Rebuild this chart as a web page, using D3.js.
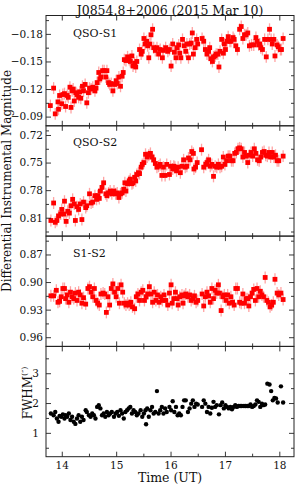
<!DOCTYPE html>
<html>
<head>
<meta charset="utf-8">
<script src="https://cdn.jsdelivr.net/npm/d3@7"></script>
<style>
body { margin: 0; background: #fff; }
svg { display: block; }
</style>
</head>
<body>
<svg id="chart" width="300" height="491"></svg>
<script>
// time (UT) vs differential magnitude
const qsoS1 = [[13.79,-0.102],[13.85,-0.121],[13.88,-0.093],[13.93,-0.106],[13.94,-0.098],[13.96,-0.113],[14.00,-0.104],[14.02,-0.114],[14.05,-0.115],[14.07,-0.101],[14.10,-0.113],[14.12,-0.111],[14.15,-0.122],[14.17,-0.100],[14.19,-0.118],[14.21,-0.120],[14.23,-0.107],[14.26,-0.116],[14.28,-0.114],[14.31,-0.111],[14.33,-0.117],[14.35,-0.110],[14.38,-0.123],[14.40,-0.118],[14.43,-0.125],[14.46,-0.105],[14.49,-0.116],[14.51,-0.121],[14.54,-0.120],[14.57,-0.122],[14.61,-0.118],[14.63,-0.121],[14.65,-0.127],[14.68,-0.138],[14.70,-0.131],[14.72,-0.133],[14.75,-0.140],[14.78,-0.140],[14.81,-0.133],[14.83,-0.140],[14.86,-0.127],[14.88,-0.125],[14.91,-0.126],[14.94,-0.118],[14.97,-0.125],[15.00,-0.129],[15.02,-0.126],[15.05,-0.133],[15.08,-0.123],[15.11,-0.134],[15.13,-0.138],[15.15,-0.152],[15.18,-0.151],[15.21,-0.155],[15.24,-0.152],[15.26,-0.150],[15.29,-0.156],[15.31,-0.145],[15.34,-0.148],[15.36,-0.144],[15.38,-0.150],[15.43,-0.163],[15.46,-0.158],[15.48,-0.161],[15.51,-0.175],[15.53,-0.169],[15.56,-0.172],[15.58,-0.167],[15.60,-0.154],[15.62,-0.169],[15.64,-0.179],[15.67,-0.185],[15.69,-0.165],[15.72,-0.162],[15.75,-0.165],[15.78,-0.158],[15.81,-0.163],[15.85,-0.154],[15.87,-0.162],[15.91,-0.165],[15.95,-0.161],[15.98,-0.163],[16.01,-0.145],[16.04,-0.169],[16.07,-0.160],[16.10,-0.154],[16.12,-0.165],[16.15,-0.168],[16.17,-0.159],[16.19,-0.154],[16.22,-0.174],[16.25,-0.167],[16.28,-0.161],[16.30,-0.169],[16.33,-0.154],[16.35,-0.169],[16.38,-0.170],[16.40,-0.181],[16.42,-0.158],[16.45,-0.165],[16.48,-0.174],[16.50,-0.169],[16.58,-0.175],[16.61,-0.172],[16.64,-0.163],[16.67,-0.158],[16.70,-0.161],[16.72,-0.165],[16.74,-0.153],[16.77,-0.150],[16.79,-0.155],[16.82,-0.156],[16.84,-0.158],[16.87,-0.158],[16.89,-0.144],[16.91,-0.161],[16.94,-0.174],[16.97,-0.159],[16.99,-0.169],[17.01,-0.163],[17.04,-0.172],[17.06,-0.177],[17.09,-0.172],[17.11,-0.172],[17.15,-0.176],[17.17,-0.174],[17.20,-0.167],[17.23,-0.163],[17.27,-0.185],[17.30,-0.188],[17.33,-0.175],[17.36,-0.179],[17.39,-0.179],[17.42,-0.181],[17.45,-0.167],[17.49,-0.168],[17.53,-0.168],[17.57,-0.176],[17.59,-0.172],[17.62,-0.168],[17.64,-0.169],[17.66,-0.165],[17.69,-0.163],[17.73,-0.174],[17.76,-0.155],[17.79,-0.174],[17.82,-0.185],[17.85,-0.174],[17.87,-0.169],[17.90,-0.174],[17.92,-0.156],[17.96,-0.168],[17.98,-0.166],[18.02,-0.163],[18.04,-0.163],[18.07,-0.175]];

const qsoS2 = [[13.80,0.813],[13.85,0.794],[13.88,0.815],[13.91,0.813],[13.94,0.808],[13.98,0.806],[14.00,0.801],[14.04,0.806],[14.05,0.792],[14.08,0.814],[14.11,0.803],[14.14,0.805],[14.17,0.797],[14.20,0.790],[14.23,0.795],[14.25,0.813],[14.28,0.798],[14.31,0.801],[14.34,0.795],[14.37,0.812],[14.40,0.793],[14.44,0.799],[14.46,0.797],[14.51,0.784],[14.54,0.794],[14.57,0.793],[14.61,0.786],[14.64,0.790],[14.66,0.786],[14.69,0.789],[14.71,0.781],[14.74,0.777],[14.77,0.772],[14.81,0.784],[14.83,0.786],[14.86,0.783],[14.89,0.781],[14.92,0.784],[14.96,0.781],[14.99,0.784],[15.02,0.783],[15.05,0.788],[15.08,0.784],[15.11,0.783],[15.14,0.779],[15.16,0.772],[15.18,0.781],[15.21,0.773],[15.24,0.770],[15.26,0.768],[15.29,0.773],[15.31,0.772],[15.34,0.766],[15.36,0.770],[15.38,0.763],[15.41,0.761],[15.43,0.762],[15.46,0.755],[15.48,0.752],[15.51,0.750],[15.54,0.741],[15.57,0.744],[15.60,0.742],[15.63,0.740],[15.66,0.744],[15.69,0.747],[15.72,0.751],[15.75,0.755],[15.78,0.754],[15.81,0.752],[15.84,0.764],[15.87,0.755],[15.90,0.764],[15.93,0.752],[15.98,0.763],[16.00,0.754],[16.04,0.757],[16.06,0.754],[16.08,0.755],[16.11,0.759],[16.14,0.755],[16.18,0.761],[16.21,0.754],[16.24,0.747],[16.27,0.755],[16.30,0.754],[16.33,0.745],[16.36,0.747],[16.39,0.738],[16.42,0.740],[16.43,0.757],[16.46,0.755],[16.49,0.750],[16.57,0.736],[16.61,0.755],[16.65,0.752],[16.67,0.750],[16.70,0.747],[16.73,0.754],[16.76,0.752],[16.79,0.765],[16.82,0.754],[16.85,0.755],[16.88,0.752],[16.91,0.755],[16.94,0.754],[16.97,0.744],[17.00,0.752],[17.03,0.748],[17.06,0.743],[17.09,0.743],[17.12,0.748],[17.15,0.748],[17.18,0.740],[17.21,0.739],[17.24,0.735],[17.27,0.734],[17.30,0.735],[17.33,0.744],[17.36,0.739],[17.39,0.743],[17.42,0.750],[17.45,0.742],[17.48,0.739],[17.51,0.743],[17.54,0.735],[17.57,0.740],[17.60,0.747],[17.63,0.748],[17.66,0.744],[17.69,0.739],[17.72,0.738],[17.75,0.742],[17.78,0.743],[17.81,0.739],[17.84,0.744],[17.87,0.739],[17.90,0.744],[17.93,0.742],[17.96,0.748],[17.99,0.748],[18.07,0.743]];

const s1s2 = [[13.80,0.915],[13.85,0.915],[13.90,0.909],[13.93,0.922],[13.96,0.921],[13.99,0.916],[14.02,0.907],[14.05,0.907],[14.07,0.918],[14.10,0.914],[14.13,0.922],[14.16,0.911],[14.19,0.916],[14.22,0.918],[14.25,0.912],[14.28,0.920],[14.31,0.911],[14.34,0.914],[14.37,0.923],[14.40,0.917],[14.44,0.924],[14.48,0.907],[14.51,0.905],[14.54,0.911],[14.57,0.916],[14.60,0.907],[14.63,0.920],[14.66,0.923],[14.69,0.925],[14.72,0.913],[14.76,0.912],[14.79,0.913],[14.82,0.933],[14.85,0.916],[14.88,0.925],[14.91,0.907],[14.94,0.902],[14.97,0.911],[15.00,0.916],[15.03,0.907],[15.06,0.923],[15.09,0.903],[15.12,0.911],[15.15,0.923],[15.18,0.925],[15.21,0.923],[15.24,0.925],[15.27,0.922],[15.30,0.927],[15.34,0.929],[15.37,0.916],[15.40,0.913],[15.43,0.920],[15.46,0.911],[15.49,0.909],[15.52,0.920],[15.55,0.916],[15.58,0.913],[15.61,0.905],[15.64,0.913],[15.67,0.922],[15.70,0.911],[15.73,0.920],[15.76,0.914],[15.79,0.922],[15.82,0.916],[15.85,0.920],[15.88,0.914],[15.91,0.920],[15.95,0.925],[15.98,0.912],[16.01,0.903],[16.03,0.923],[16.06,0.918],[16.09,0.911],[16.12,0.918],[16.14,0.925],[16.17,0.916],[16.21,0.914],[16.23,0.923],[16.25,0.915],[16.28,0.913],[16.32,0.916],[16.35,0.914],[16.38,0.920],[16.41,0.918],[16.44,0.915],[16.47,0.922],[16.50,0.920],[16.58,0.913],[16.61,0.926],[16.64,0.916],[16.67,0.911],[16.70,0.915],[16.73,0.922],[16.76,0.907],[16.79,0.918],[16.82,0.909],[16.85,0.912],[16.88,0.903],[16.90,0.912],[16.93,0.931],[16.96,0.916],[16.99,0.914],[17.02,0.920],[17.05,0.914],[17.08,0.923],[17.11,0.916],[17.14,0.922],[17.17,0.925],[17.20,0.907],[17.23,0.907],[17.27,0.922],[17.30,0.923],[17.33,0.913],[17.36,0.923],[17.39,0.918],[17.42,0.918],[17.44,0.926],[17.47,0.916],[17.50,0.912],[17.53,0.908],[17.56,0.920],[17.59,0.907],[17.62,0.916],[17.65,0.910],[17.68,0.914],[17.71,0.916],[17.74,0.895],[17.77,0.920],[17.80,0.922],[17.83,0.927],[17.86,0.925],[17.89,0.922],[17.92,0.897],[17.96,0.912],[17.99,0.914],[18.03,0.912],[18.07,0.919]];

// FWHM (arcsec)
const fwhm = [[13.80,1.65],[13.85,1.59],[13.88,1.70],[13.91,1.48],[13.94,1.37],[13.96,1.57],[13.99,1.54],[14.02,1.62],[14.05,1.48],[14.07,1.59],[14.10,1.54],[14.13,1.65],[14.16,1.43],[14.19,1.54],[14.22,1.37],[14.25,1.30],[14.28,1.48],[14.31,1.59],[14.34,1.37],[14.37,1.54],[14.40,1.43],[14.44,1.76],[14.46,1.70],[14.50,1.59],[14.53,1.54],[14.56,1.65],[14.59,1.59],[14.62,1.48],[14.65,1.87],[14.68,1.93],[14.71,1.82],[14.74,1.59],[14.77,1.65],[14.80,1.54],[14.83,1.70],[14.86,1.59],[14.89,1.65],[14.92,1.70],[14.96,1.54],[14.99,1.65],[15.02,1.70],[15.05,1.57],[15.08,1.76],[15.11,1.65],[15.14,1.48],[15.17,1.70],[15.20,1.76],[15.23,1.82],[15.26,1.87],[15.29,1.65],[15.32,1.76],[15.35,1.70],[15.38,1.59],[15.41,1.65],[15.45,1.76],[15.48,1.54],[15.51,1.65],[15.54,1.76],[15.55,1.29],[15.57,1.82],[15.60,1.54],[15.63,1.76],[15.66,1.87],[15.69,1.65],[15.72,1.70],[15.75,2.40],[15.78,1.65],[15.81,1.76],[15.84,1.87],[15.87,1.65],[15.90,1.82],[15.93,1.70],[15.98,1.87],[16.01,1.76],[16.04,2.06],[16.07,1.70],[16.10,1.87],[16.13,1.59],[16.16,1.65],[16.19,1.59],[16.22,1.87],[16.25,2.09],[16.28,2.09],[16.32,1.70],[16.35,1.82],[16.38,1.98],[16.41,2.09],[16.44,1.87],[16.47,1.98],[16.50,1.95],[16.58,1.87],[16.61,2.09],[16.64,1.98],[16.67,1.70],[16.70,1.87],[16.73,1.65],[16.76,1.84],[16.79,2.04],[16.82,1.87],[16.85,1.93],[16.89,1.62],[16.92,1.93],[16.95,2.02],[16.98,1.82],[17.01,1.93],[17.04,1.87],[17.07,1.82],[17.10,1.87],[17.13,1.79],[17.16,1.87],[17.19,1.93],[17.22,1.87],[17.25,1.90],[17.28,1.90],[17.31,1.90],[17.35,1.90],[17.38,1.90],[17.41,1.90],[17.44,1.90],[17.47,1.95],[17.50,1.87],[17.53,1.90],[17.56,1.95],[17.59,2.09],[17.62,2.04],[17.65,1.87],[17.68,1.98],[17.71,1.93],[17.74,1.95],[17.78,2.65],[17.82,2.62],[17.85,2.40],[17.88,2.09],[17.91,2.17],[17.94,2.15],[17.97,2.02],[18.03,2.56],[18.07,2.02]];

const magError = 0.0065;
const timeTicks = [14, 15, 16, 17, 18];
const timeMinor = [14.5, 15.5, 16.5, 17.5];
const ticks1 = [-0.18, -0.15, -0.12, -0.09];
const ticks2 = [0.72, 0.75, 0.78, 0.81];
const ticks3 = [0.87, 0.90, 0.93, 0.96];
const ticks4 = [1, 2, 3];
const minor1 = [-0.195, -0.165, -0.135, -0.105, -0.075];
const minor2 = [0.735, 0.765, 0.795, 0.825];
const minor3 = [0.855, 0.885, 0.915, 0.945];
const minor4 = [0.5, 1.5, 2.5, 3.5];
const panelNames = ["QSO-S1", "QSO-S2", "S1-S2"];

const left = 46, right = 294, top0 = 15.5, panelH = 110.3;
const serif = "DejaVu Serif";
let svg = d3.select("#chart");

let x = d3.scaleLinear().domain([13.71, 18.27]).range([left, right]);

function panelY(i, domain) {
    let y0 = top0 + i * panelH;
    return d3.scaleLinear().domain(domain).range([y0, y0 + panelH]);
}

function drawFrame(i, y, major, minor, fmt, pad, xLabels) {
    let y0 = top0 + i * panelH;
    let g = svg.append("g");
    // minor ticks first
    g.append("g").attr("transform", "translate(" + left + ",0)")
        .call(d3.axisLeft(y).tickValues(minor).tickSize(-3).tickFormat(""));
    g.append("g").attr("transform", "translate(" + right + ",0)")
        .call(d3.axisRight(y).tickValues(minor).tickSize(-3).tickFormat(""));
    g.append("g").attr("transform", "translate(0," + y0 + ")")
        .call(d3.axisTop(x).tickValues(timeMinor).tickSize(-3).tickFormat(""));
    g.append("g").attr("transform", "translate(0," + (y0 + panelH) + ")")
        .call(d3.axisBottom(x).tickValues(timeMinor).tickSize(-3).tickFormat(""));
    // major ticks
    g.append("g").attr("transform", "translate(" + left + ",0)")
        .call(d3.axisLeft(y).tickValues(major).tickSize(-5).tickPadding(pad).tickFormat(fmt));
    g.append("g").attr("transform", "translate(" + right + ",0)")
        .call(d3.axisRight(y).tickValues(major).tickSize(-5).tickFormat(""));
    g.append("g").attr("transform", "translate(0," + y0 + ")")
        .call(d3.axisTop(x).tickValues(timeTicks).tickSize(-5).tickFormat(""));
    g.append("g").attr("transform", "translate(0," + (y0 + panelH) + ")")
        .call(d3.axisBottom(x).tickValues(timeTicks).tickSize(-5).tickPadding(5)
            .tickFormat(xLabels ? d3.format("d") : ""));
    g.selectAll(".domain").remove();
    g.selectAll("line").attr("stroke", "#222").attr("stroke-width", 0.9);
    g.selectAll("text").attr("font-family", serif).attr("font-size", 10.5).attr("fill", "#111");
    g.append("rect")
        .attr("x", left).attr("y", y0)
        .attr("width", right - left).attr("height", panelH)
        .attr("fill", "none").attr("stroke", "#222").attr("stroke-width", 1);
}

function drawMags(i, data, domain) {
    let y = panelY(i, domain);
    let g = svg.append("g");
    g.selectAll("line.err").data(data).enter().append("line")
        .attr("x1", d => x(d[0])).attr("x2", d => x(d[0]))
        .attr("y1", d => y(d[1] - magError)).attr("y2", d => y(d[1] + magError))
        .attr("stroke", "#ff8c8c").attr("stroke-width", 1.3).attr("stroke-opacity", 0.8);
    g.selectAll("rect").data(data).enter().append("rect")
        .attr("x", d => x(d[0]) - 2.4).attr("y", d => y(d[1]) - 2.4)
        .attr("width", 4.8).attr("height", 4.8)
        .attr("fill", "#ff0000");
    svg.append("text")
        .attr("x", 73).attr("y", y.range()[0] + [21.5, 20.5, 21][i])
        .attr("font-family", serif).attr("font-size", 11).attr("fill", "#111")
        .text(panelNames[i]);
    return y;
}

let fmtMag = d3.format(".2f");
let y1 = drawMags(0, qsoS1, [-0.20, -0.08]);
drawFrame(0, y1, ticks1, minor1, fmtMag, 3, false);
let y2 = drawMags(1, qsoS2, [0.71, 0.83]);
drawFrame(1, y2, ticks2, minor2, fmtMag, 3, false);
let y3 = drawMags(2, s1s2, [0.85, 0.97]);
drawFrame(2, y3, ticks3, minor3, fmtMag, 3, false);

let y4 = panelY(3, [3.9, 0.2]);
svg.append("g").selectAll("circle").data(fwhm).enter().append("circle")
    .attr("cx", d => x(d[0])).attr("cy", d => y4(d[1]))
    .attr("r", 2.2).attr("fill", "#000");
drawFrame(3, y4, ticks4, minor4, d3.format("d"), 7, true);

// labels
svg.append("text")
    .attr("x", (left + right) / 2).attr("y", 14.5)
    .attr("text-anchor", "middle")
    .attr("font-family", serif).attr("font-size", 12.5).attr("fill", "#111")
    .text("J0854.8+2006 (2015 Mar 10)");

svg.append("text")
    .attr("transform", "translate(11," + (top0 + 1.5 * panelH) + ") rotate(-90)")
    .attr("text-anchor", "middle")
    .attr("font-family", serif).attr("font-size", 12).attr("fill", "#111")
    .text("Differential Instrumental Magnitude");

let fw = svg.append("text")
    .attr("transform", "translate(32,393) rotate(-90)")
    .attr("text-anchor", "middle")
    .attr("font-family", serif).attr("font-size", 12).attr("fill", "#111");
fw.append("tspan").text("FWHM");
fw.append("tspan").attr("font-size", 8).attr("dy", -5).text("(\u2033)");

svg.append("text")
    .attr("x", (left + right) / 2).attr("y", 482)
    .attr("text-anchor", "middle")
    .attr("font-family", serif).attr("font-size", 12.5).attr("fill", "#111")
    .text("Time (UT)");
</script>
</body>
</html>
